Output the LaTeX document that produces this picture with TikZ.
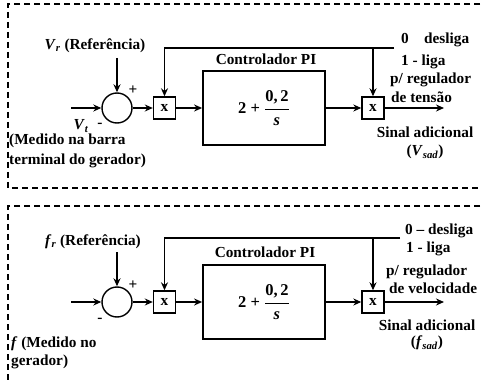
\documentclass[tikz,border=0pt]{standalone}
\usepackage{fontspec}
\setmainfont{Liberation Serif}
\usetikzlibrary{arrows.meta}
\newcommand{\Lbl}{\fontsize{15.3}{18}\selectfont\bfseries}
\newcommand{\Sym}[2]{\textit{#1}\textsubscript{\textit{#2}}}

\begin{document}
\begin{tikzpicture}[x=1pt,y=1pt, font=\Lbl,
    conn/.style={line width=1.3pt, -{Stealth[length=8pt,width=7pt]}},
    frame/.style={line width=1.6pt, dash pattern=on 6pt off 4pt},
    mult/.style={draw, line width=1.4pt, minimum size=22pt, inner sep=0pt},
    piblock/.style={draw, line width=1.8pt, minimum width=122pt, minimum height=74pt, font=\fontsize{16.5}{20}\selectfont\bfseries},
    sumnode/.style={draw, circle, line width=1.4pt, minimum size=30pt, inner sep=0pt},
    txt/.style={inner sep=0pt}]
  \clip (0,0) rectangle (481,383);
  % dashed frames
  \draw[frame] (490,379) -| (8,195) -- (490,195);
  \draw[frame] (490,177) -| (8,-10);
  % blocks of both loops
  \foreach \p/\yc/\fb/\fr in {1/275/335/394, 2/81/145/400}{
    \node[sumnode] (sum\p) at (117,\yc) {};
    \node[mult] (mA\p) at (164.5,\yc) {x};
    \node[piblock] (pi\p) at (264,\yc) {2 + $\displaystyle\frac{\mbox{0,\,2}}{\mbox{\itshape s}}$};
    \node[mult] (mB\p) at (373,\yc) {x};
    \coordinate (in\p) at (71,\yc);
    \coordinate (ref\p) at (117,\yc+50);
    \coordinate (out\p) at (444,\yc);
    \coordinate (fbL\p) at (164.5,\fb);
    \coordinate (fbR\p) at (\fr,\fb);
    \coordinate (fbT\p) at (373,\fb);
    \draw[conn] (in\p) -- (sum\p);
    \draw[conn] (ref\p) -- (sum\p);
    \draw[conn] (sum\p) -- (mA\p);
    \draw[conn] (mA\p) -- (pi\p);
    \draw[conn] (pi\p) -- (mB\p);
    \draw[conn] (mB\p) -- (out\p);
    \draw[conn] (fbR\p) -- (fbL\p) -- (mA\p);
    \draw[conn] (fbT\p) -- (mB\p);}
  % labels, voltage loop
  \node[txt] (vref) at (95,337) {\Sym{V}{r} (Referência)};
  \node[txt] (plus1) at (133,293) {+};
  \node[txt] (vt) at (81,257) {\Sym{V}{t}};
  \node[txt] (minus1) at (100,258) {-};
  \node[txt, anchor=north west, align=left, font=\fontsize{15.3}{20}\selectfont\bfseries] (meas1) at (9,249) {(Medido na barra\\terminal do gerador)};
  \node[txt] (ctl1) at (266,324) {Controlador PI};
  \node[txt, anchor=west] (off1) at (401,343) {0\quad desliga};
  \node[txt, anchor=west] (on1) at (401,321) {1 - liga};
  \node[txt, anchor=west] (reg1) at (390,303) {p/ regulador};
  \node[txt, anchor=west] (ten1) at (391,286) {de tensão};
  \node[txt] (sig1) at (425,251) {Sinal adicional};
  \node[txt] (vsad) at (425,231) {(\Sym{V}{sad})};
  % labels, speed loop
  \node[txt] (fref) at (93,141) {\Sym{f}{r} (Referência)};
  \node[txt] (plus2) at (133,98) {+};
  \node[txt] (minus2) at (100,63) {-};
  \node[txt, anchor=north west, align=left] (meas2) at (11,46) {\textit{f} (Medido no\\gerador)};
  \node[txt] (ctl2) at (265,131) {Controlador PI};
  \node[txt, anchor=west] (off2) at (405,152) {0 -- desliga};
  \node[txt, anchor=west] (on2) at (406,134) {1 - liga};
  \node[txt, anchor=west] (reg2) at (386,111) {p/ regulador};
  \node[txt, anchor=west] (vel2) at (389,95) {de velocidade};
  \node[txt] (sig2) at (427,58) {Sinal adicional};
  \node[txt] (fsad) at (427,40) {(\Sym{f}{sad})};
\end{tikzpicture}
\end{document}
